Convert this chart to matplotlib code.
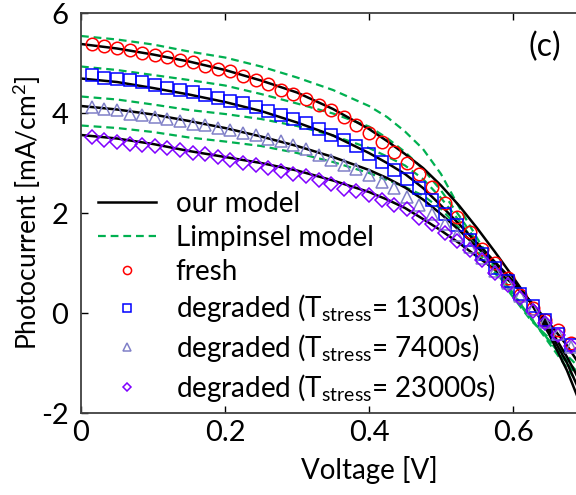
import matplotlib
matplotlib.use('Agg')
from matplotlib import pyplot as plt

FONT = 'Lato'
TICK_SIZE = 21
LEG_SIZE = 20
LABEL_SIZE = 19

plt.rc('font', family=FONT, size=LABEL_SIZE)
plt.rc('mathtext', fontset='custom', rm=FONT, it=FONT, bf=FONT)
plt.rc('axes', unicode_minus=False)

# measured points (markers)
v_meas = [0.015, 0.0325, 0.05, 0.0675, 0.085, 0.1025, 0.12, 0.1375, 0.155, 0.1725,
          0.19, 0.2075, 0.225, 0.2425, 0.26, 0.2775, 0.295, 0.3125, 0.33, 0.3475,
          0.365, 0.3825, 0.4, 0.4175, 0.435, 0.4525, 0.47, 0.4875, 0.505, 0.5225,
          0.54, 0.5575, 0.575, 0.5925, 0.61, 0.6275, 0.645, 0.6625, 0.68]

i_fresh = [5.39, 5.35, 5.31, 5.26, 5.21, 5.17, 5.13, 5.07, 5.03, 4.95,
           4.88, 4.84, 4.75, 4.67, 4.58, 4.47, 4.38, 4.28, 4.17, 4.06,
           3.92, 3.76, 3.60, 3.42, 3.22, 3.00, 2.78, 2.52, 2.20, 1.93,
           1.63, 1.28, 1.00, 0.70, 0.36, 0.10, -0.13, -0.34, -0.60]
i_1300 = [4.76, 4.71, 4.68, 4.65, 4.61, 4.56, 4.51, 4.47, 4.43, 4.36,
          4.31, 4.25, 4.19, 4.11, 4.05, 3.97, 3.89, 3.81, 3.68, 3.57,
          3.46, 3.35, 3.18, 3.03, 2.87, 2.69, 2.51, 2.26, 1.99, 1.76,
          1.46, 1.19, 0.91, 0.65, 0.39, 0.14, -0.13, -0.41, -0.64]
i_7400 = [4.13, 4.08, 4.06, 3.99, 3.96, 3.93, 3.89, 3.85, 3.79, 3.76,
          3.71, 3.67, 3.61, 3.56, 3.49, 3.44, 3.37, 3.29, 3.17, 3.06,
          2.96, 2.89, 2.76, 2.63, 2.51, 2.33, 2.16, 1.99, 1.79, 1.56,
          1.33, 1.10, 0.85, 0.60, 0.34, 0.08, -0.17, -0.42, -0.68]
i_23000 = [3.53, 3.47, 3.43, 3.39, 3.36, 3.34, 3.31, 3.26, 3.21, 3.18,
           3.13, 3.07, 3.01, 2.97, 2.91, 2.85, 2.79, 2.74, 2.67, 2.58,
           2.49, 2.44, 2.36, 2.26, 2.17, 2.08, 1.90, 1.79, 1.60, 1.44,
           1.26, 1.07, 0.80, 0.56, 0.30, 0.05, -0.20, -0.43, -0.66]

# model curves
v_model = [0, 0.05, 0.1, 0.15, 0.2, 0.25, 0.3, 0.35, 0.4, 0.425, 0.45,
           0.475, 0.5, 0.525, 0.55, 0.575, 0.6, 0.625, 0.65, 0.675, 0.7]

our_fresh = [5.38, 5.29, 5.17, 5.03, 4.86, 4.65, 4.41, 4.08, 3.68, 3.44, 3.18,
             2.90, 2.55, 2.15, 1.70, 1.22, 0.72, 0.20, -0.42, -1.15, -2.05]
our_1300 = [4.69, 4.62, 4.50, 4.37, 4.22, 4.04, 3.81, 3.55, 3.20, 3.00, 2.78,
            2.50, 2.15, 1.78, 1.40, 1.02, 0.64, 0.20, -0.35, -1.00, -1.80]
our_7400 = [4.14, 4.07, 3.97, 3.84, 3.70, 3.53, 3.34, 3.12, 2.86, 2.70, 2.51,
            2.27, 1.98, 1.66, 1.32, 0.98, 0.64, 0.22, -0.28, -0.88, -1.55]
our_23000 = [3.56, 3.49, 3.38, 3.24, 3.12, 3.00, 2.85, 2.65, 2.42, 2.27, 2.10,
             1.88, 1.65, 1.40, 1.13, 0.87, 0.58, 0.22, -0.20, -0.65, -1.20]

lim_fresh = [5.54, 5.47, 5.37, 5.23, 5.11, 4.93, 4.71, 4.46, 4.14, 3.92, 3.63,
             3.28, 2.78, 2.12, 1.50, 0.92, 0.40, -0.10, -0.60, -1.10, -1.60]
lim_1300 = [4.93, 4.86, 4.76, 4.66, 4.55, 4.38, 4.19, 3.99, 3.73, 3.50, 3.22,
            2.88, 2.45, 1.95, 1.42, 0.90, 0.38, -0.10, -0.55, -1.00, -1.45]
lim_7400 = [4.33, 4.27, 4.17, 4.06, 3.98, 3.88, 3.74, 3.55, 3.30, 3.13, 2.95,
            2.68, 2.30, 1.85, 1.35, 0.85, 0.35, -0.12, -0.55, -0.95, -1.35]
lim_23000 = [3.75, 3.70, 3.62, 3.51, 3.43, 3.34, 3.20, 3.02, 2.80, 2.66, 2.52,
             2.35, 2.08, 1.70, 1.25, 0.80, 0.32, -0.15, -0.50, -0.85, -1.20]

labels = ['fresh',
          r'degraded (T$_{\mathregular{stress}}$= 1300s)',
          r'degraded (T$_{\mathregular{stress}}$= 7400s)',
          r'degraded (T$_{\mathregular{stress}}$= 23000s)']

W, H = 576, 495
fig = plt.figure(figsize=(W / 100, H / 100), dpi=100)
# axes run to V=0.8 but the picture is cut at the right edge
ax = fig.add_axes([81 / W, 82 / H, 576 / W, 400 / H])

green = '#00b050'
for y in [lim_fresh, lim_1300, lim_7400, lim_23000]:
    ax.plot(v_model, y, '--', color=green, lw=1.6, dashes=(3.5, 2.2))
for y in [our_fresh, our_1300, our_7400, our_23000]:
    ax.plot(v_model, y, '-', color='black', lw=1.8)

ax.plot([], [], '-', color='black', lw=1.8, label='our model')
ax.plot([], [], '--', color=green, lw=1.6, dashes=(3.5, 2.2), label='Limpinsel model')

series = [i_fresh, i_1300, i_7400, i_23000]
markers = ['o', 's', '^', 'D']
colors = ['#ff0000', '#0000ff', '#8080c8', '#8000ff']
msizes = [9, 8.5, 8, 7]
for y, m, c, ms, lab in zip(series, markers, colors, msizes, labels):
    ax.plot(v_meas, y, m, mfc='none', mec=c, mew=1.1, ms=ms, label=lab, ls='none')

ax.set_xlim(0, 0.8)
ax.set_ylim(-2, 6)
ax.set_xticks([0, 0.2, 0.4, 0.6])
ax.set_xticklabels(['0', '0.2', '0.4', '0.6'])
ax.set_yticks([-2, 0, 2, 4, 6])
ax.tick_params(direction='in', top=True, right=True, length=5, width=1,
               labelsize=TICK_SIZE)
ax.tick_params(axis='y', pad=9)
ax.tick_params(axis='x', pad=5)
for s in ax.spines.values():
    s.set_color('#404040')
    s.set_linewidth(1.3)

ax.set_xlabel('Voltage [V]', fontsize=20, labelpad=7)
ax.set_ylabel('Photocurrent [mA/cm$^2$]', fontsize=19)
ax.yaxis.set_label_coords(-38 / 576, 0.5)

ax.text(0.644, 5.33, '(c)', fontsize=23, ha='center', va='center')

leg = ax.legend(loc='upper left', bbox_to_anchor=(17 / 576, 1 - 178 / 400),
                frameon=False, handlelength=2.1, handletextpad=0.7,
                labelspacing=0.28, borderpad=0, borderaxespad=0,
                markerscale=0.65, numpoints=1, fontsize=LEG_SIZE)

fig.savefig('out.png', dpi=100)
